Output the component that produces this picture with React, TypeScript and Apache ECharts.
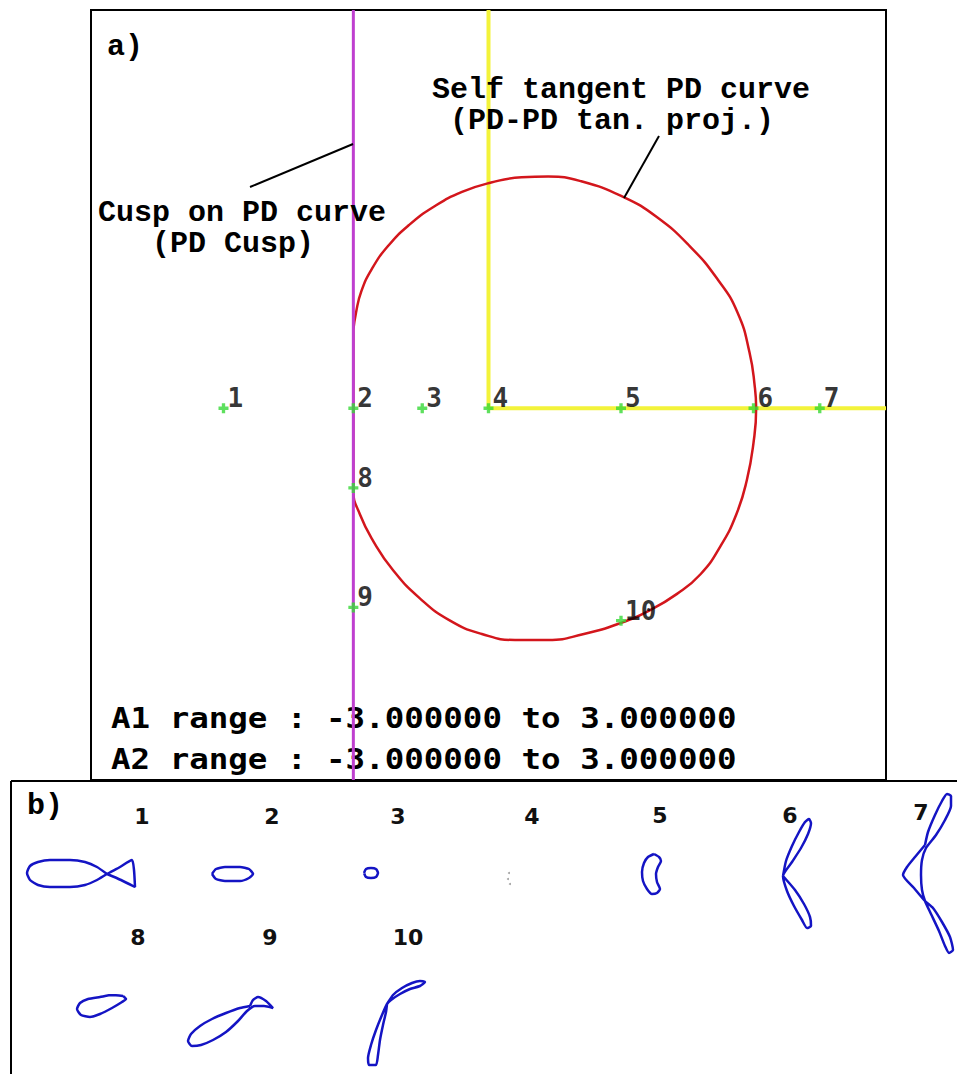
import { useEffect, useRef } from "react";
import * as echarts from "echarts";

// Parameter plane (A1, A2): sample points and bifurcation sets
const pointNames = ["1", "2", "3", "4", "5", "6", "7", "8", "9", "10"];
const pointA1 = [-2, -1.02, -0.5, 0, 1, 2, 2.5, -1.02, -1.02, 1];
const pointA2 = [0, 0, 0, 0, 0, 0, 0, -0.6, -1.5, -1.6];

// Cusp on PD curve (vertical line)
const cuspA1 = [-1.02, -1.02];
const cuspA2 = [-3, 3];

// Yellow set: up the A2 axis, then out along the A1 axis
const yellowA1 = [0, 0, 3];
const yellowA2 = [3, 0, 0];

// Self tangent PD curve
const selfTangentA1 = [
  -1.02, -1.0, -0.96, -0.88, -0.76, -0.6, -0.41, -0.2, 0.02, 0.25, 0.45, 0.7, 1.02, 1.27, 1.52, 1.73,
  1.88, 1.97, 2.01, 2.02, 2.0, 1.95, 1.87, 1.75, 1.6, 1.42, 1.22, 0.99, 0.72, 0.45, 0.2, -0.05, -0.29,
  -0.52, -0.72, -0.87, -0.97, -1.02, -1.02,
];
const selfTangentA2 = [
  0.59, 0.72, 0.88, 1.05, 1.22, 1.38, 1.52, 1.63, 1.7, 1.74, 1.745, 1.71, 1.59, 1.44, 1.22, 0.97, 0.72,
  0.42, 0.16, 0, -0.26, -0.54, -0.8, -1.04, -1.25, -1.4, -1.52, -1.62, -1.7, -1.745, -1.745, -1.7, -1.6,
  -1.43, -1.22, -1.0, -0.8, -0.62, 0.59,
];

const rangeLines = ["A1 range : -3.000000 to 3.000000", "A2 range : -3.000000 to 3.000000"];

// Curve sketches for each sample point (panel b coordinates)
const sketch1 = [[107, 874], [97, 867], [85, 862], [70, 860], [50, 860], [38, 862], [30, 866], [27, 873], [30, 880], [38, 885], [50, 887], [70, 887], [85, 885], [97, 880], [107, 874], [120, 867], [132, 860], [134, 870], [135, 887], [121, 880], [107, 874]];
const sketch2 = [[212, 874], [216, 869], [225, 867], [240, 867], [249, 869], [253, 874], [249, 878], [240, 881], [225, 881], [216, 879], [212, 874]];
const sketch3 = [[364, 873], [366, 869], [371, 868], [376, 869], [378, 873], [376, 877], [371, 878], [366, 877], [364, 873]];
const sketch4 = [[509, 873], [508, 879], [510, 884]];
const sketch5 = [[654, 854], [659, 857], [661, 861], [658, 867], [656, 874], [657, 882], [660, 889], [657, 893], [652, 894], [647, 889], [643, 881], [642, 872], [644, 863], [648, 857], [654, 854]];
const sketch6 = [[783, 876], [786, 861], [792, 846], [799, 832], [805, 822], [809, 819], [811, 823], [808, 834], [801, 848], [792, 862], [783, 876], [787, 891], [794, 906], [802, 920], [807, 928], [811, 926], [810, 917], [804, 904], [795, 890], [783, 876]];
const sketch7 = [[925, 845], [928, 832], [935, 815], [942, 801], [947, 794], [951, 796], [951, 806], [945, 820], [936, 835], [926, 848], [922, 860], [921, 875], [922, 890], [925, 901], [931, 914], [939, 931], [945, 946], [949, 953], [953, 950], [950, 937], [942, 922], [933, 908], [925, 901], [914, 888], [903, 875], [907, 867], [915, 857], [925, 845]];
const sketch8 = [[123, 996], [112, 995], [100, 997], [88, 999], [80, 1003], [77, 1009], [81, 1015], [90, 1017], [100, 1014], [112, 1008], [122, 1002], [126, 999], [123, 996]];
const sketch9 = [[250, 1006], [240, 1008], [226, 1013], [212, 1019], [200, 1026], [191, 1034], [188, 1041], [192, 1046], [201, 1045], [213, 1040], [226, 1032], [238, 1021], [247, 1011], [255, 1006], [264, 1006], [273, 1008], [266, 1001], [258, 997], [253, 1000], [250, 1006]];
const sketch10 = [[387, 1004], [393, 995], [402, 988], [412, 983], [420, 981], [425, 982], [420, 986], [410, 989], [400, 994], [391, 1000], [387, 1004], [382, 1015], [376, 1030], [371, 1045], [368, 1058], [369, 1065], [376, 1065], [378, 1055], [380, 1040], [383, 1025], [386, 1012], [387, 1004]];
const sketchOutlines = [sketch1, sketch2, sketch3, sketch5, sketch6, sketch7, sketch8, sketch9, sketch10];

// Where each sketch number is written in panel b
const sketchLabelPos = [
  [142, 816], [272, 816], [398, 816], [532, 816], [660, 815], [790, 815], [921, 812],
  [138, 937], [270, 937], [408, 937],
];

const COURIER = '"Liberation Mono", "DejaVu Sans Mono", monospace';
const TERM = '"DejaVu Sans Mono", monospace';

const plusSymbol = "path://M3 0h3v3h3v3h-3v3h-3v-3h-3v-3h3z";

export default function App() {
  const ref = useRef<HTMLDivElement>(null);

  useEffect(() => {
    if (!ref.current) return;
    const chart = echarts.init(ref.current, undefined, { renderer: "svg" });

    const zip = (xs: number[], ys: number[]) => xs.map((x, i) => [x, ys[i]]);

    const sketchSeries = sketchOutlines.map((pts) => ({
      type: "line",
      xAxisIndex: 1,
      yAxisIndex: 1,
      data: pts,
      symbol: "none",
      smooth: 0.2,
      lineStyle: { color: "#1414c4", width: 2.5 },
      z: 3,
      silent: true,
    }));

    const courierText = (text: string, x: number, y: number) => ({
      type: "text",
      x,
      y,
      z: 10,
      style: {
        text,
        font: `bold 30px ${COURIER}`,
        fill: "#000",
        align: "left",
        verticalAlign: "middle",
        lineHeight: 31,
      },
    });

    const option: any = {
      animation: false,
      backgroundColor: "#fff",
      grid: [
        { left: 91, top: 10, width: 795, height: 770, show: true, borderColor: "#000", borderWidth: 2, backgroundColor: "transparent" },
        { left: 11, top: 781, width: 946, height: 293, show: false },
      ],
      xAxis: [
        { gridIndex: 0, type: "value", min: -3, max: 3, show: false },
        { gridIndex: 1, type: "value", min: 11, max: 957, show: false },
      ],
      yAxis: [
        { gridIndex: 0, type: "value", min: -2.8, max: 3, show: false },
        { gridIndex: 1, type: "value", min: 781, max: 1074, inverse: true, show: false },
      ],
      series: [
        {
          type: "line",
          data: zip(yellowA1, yellowA2),
          symbol: "none",
          lineStyle: { color: "#f3f33a", width: 4 },
          z: 2,
          silent: true,
        },
        {
          type: "line",
          data: zip(selfTangentA1, selfTangentA2),
          symbol: "none",
          smooth: 0.5,
          lineStyle: { color: "#d3161c", width: 2.5 },
          z: 3,
          silent: true,
        },
        {
          type: "line",
          data: zip(cuspA1, cuspA2),
          symbol: "none",
          lineStyle: { color: "#bf3fcf", width: 3 },
          z: 4,
          silent: true,
        },
        {
          type: "scatter",
          data: pointNames.map((n, i) => ({ name: n, value: [pointA1[i], pointA2[i]] })),
          symbol: plusSymbol,
          symbolSize: 10,
          itemStyle: { color: "#36d836" },
          label: {
            show: true,
            formatter: (p: any) => p.name,
            position: [9, -5],
            align: "left",
            verticalAlign: "middle",
            fontFamily: TERM,
            fontWeight: "bold",
            fontSize: 26,
            color: "#000",
          },
          z: 6,
          silent: true,
        },
        ...sketchSeries,
        {
          type: "scatter",
          xAxisIndex: 1,
          yAxisIndex: 1,
          data: sketch4,
          symbolSize: 2,
          itemStyle: { color: "#8a8a8a" },
          z: 3,
          silent: true,
        },
      ],
      graphic: [
        courierText("a)", 107, 47),
        courierText("Self tangent PD curve\n (PD-PD tan. proj.)", 432, 105),
        courierText("Cusp on PD curve\n   (PD Cusp)", 98, 228),
        { type: "line", z: 10, shape: { x1: 250, y1: 187, x2: 353, y2: 144 }, style: { stroke: "#000", lineWidth: 2 } },
        { type: "line", z: 10, shape: { x1: 659, y1: 136, x2: 624, y2: 198 }, style: { stroke: "#000", lineWidth: 2 } },
        ...rangeLines.map((t, i) => ({
          type: "text",
          x: 111,
          y: 718 + i * 41,
          scaleX: 1.16,
          z: 0,
          style: { text: t, font: `bold 28px ${TERM}`, fill: "#000", align: "left", verticalAlign: "middle" },
        })),
        // panel b frame (left and top edges)
        { type: "line", z: 10, shape: { x1: 11, y1: 781, x2: 957, y2: 781 }, style: { stroke: "#000", lineWidth: 2 } },
        { type: "line", z: 10, shape: { x1: 11, y1: 781, x2: 11, y2: 1074 }, style: { stroke: "#000", lineWidth: 2 } },
        courierText("b)", 27, 806),
        ...pointNames.map((n, i) => ({
          type: "text",
          x: sketchLabelPos[i][0],
          y: sketchLabelPos[i][1],
          z: 1,
          style: { text: n, font: 'bold 22px "DejaVu Sans", sans-serif', fill: "#111", align: "center", verticalAlign: "middle" },
        })),
      ],
    };

    chart.setOption(option);
    return () => chart.dispose();
  }, []);

  return (
    <div
      ref={ref}
      style={{ position: "fixed", left: 0, top: 0, width: 957, height: 1074, background: "#fff" }}
    />
  );
}
